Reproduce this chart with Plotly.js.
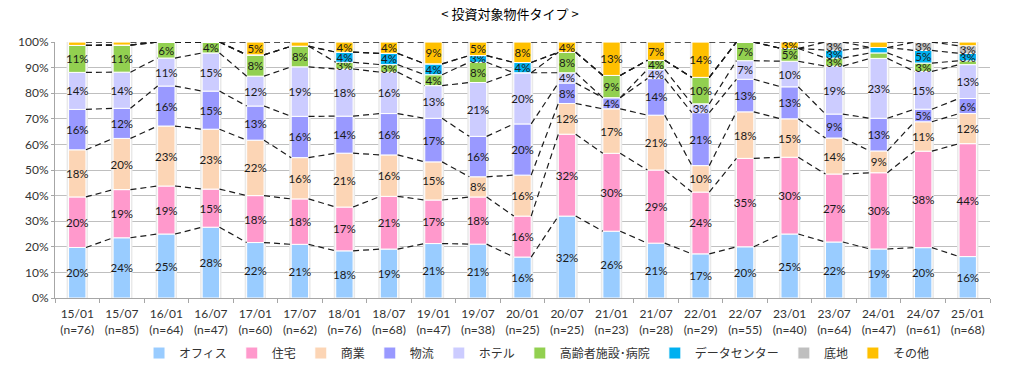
<!DOCTYPE html>
<html>
<head>
<meta charset="utf-8">
<script src="https://cdn.plot.ly/plotly-3.0.1.min.js"></script>
<style>html,body{margin:0;padding:0;background:#fff;}#chart{width:1020px;height:372px;}</style>
</head>
<body>
<div id="chart"></div>
<script>
// ---- data (percent of each survey's answers) ----
const categories = ['15/01','15/07','16/01','16/07','17/01','17/07','18/01','18/07','19/01','19/07','20/01','20/07','21/01','21/07','22/01','22/07','23/01','23/07','24/01','24/07','25/01'];
const sampleSizes = [76,85,64,47,60,62,76,68,47,38,25,25,23,28,29,55,40,64,47,61,68];
const seriesNames = ['オフィス','住宅','商業','物流','ホテル','高齢者施設･病院','データセンター','底地','その他'];
const office     = [19.74,23.53,25.00,27.66,21.67,20.97,18.42,19.12,21.27,21.05,16,32,26.09,21.43,17.24,20.00,25,21.88,19.15,19.67,16.18];
const housing    = [19.74,18.82,18.75,14.89,18.33,17.74,17.11,20.59,17.02,18.42,16,32,30.43,28.57,24.14,34.55,30,26.56,29.79,37.70,44.12];
const retail     = [18.42,20.00,23.44,23.40,21.67,16.13,21.05,16.18,14.89,7.89,16,12,17.39,21.43,10.34,18.18,15,14.06,8.51,11.48,11.76];
const logistics  = [15.78,11.76,15.62,14.89,13.33,16.13,14.47,16.17,17.02,15.79,20,8,4.35,14.29,20.69,12.73,12.5,9.37,12.77,4.92,5.88];
const hotel      = [14.47,14.12,10.94,14.89,11.67,19.35,18.42,16.18,12.77,21.05,20,4,0,3.57,3.45,7.27,10,18.75,23.40,14.75,13.24];
const healthcare = [10.53,10.59,6.25,4.26,8.33,8.06,2.63,2.94,4.26,7.89,0,8,8.70,3.57,10.34,7.27,5,3.12,2.13,3.28,1.47];
const datacenter = [0,0,0,0,0,0,3.95,4.41,4.26,2.63,4,0,0,0,0,0,0,3.13,2.13,4.92,2.94];
const land       = [0,0,0,0,0,0,0,0,0,0,0,0,0,0,0,0,0,3.13,0,3.28,2.94];
const other      = [1.32,1.18,0,0,5.00,1.61,3.95,4.41,8.51,5.26,8,4,13.04,7.14,13.79,0,2.5,0,2.12,0,1.47];

const series = [office, housing, retail, logistics, hotel, healthcare, datacenter, land, other];
const colors = ['#99CCFF','#FF99CC','#FCD5B5','#9999FF','#CCCCFF','#92D050','#00B0F0','#BFBFBF','#FFC000'];

const idx = categories.map((_, i) => i);
const tickText = categories.map((c, i) => c + '<br>(n=' + sampleSizes[i] + ')');
const W = 0.39;
const FONT = 'Lato, "Noto Sans CJK JP", sans-serif';

// cumulative tops
const cum = [];
let running = categories.map(() => 0);
series.forEach(s => {
  const bases = running.slice();
  running = running.map((r, i) => r + s[i]);
  cum.push({base: bases, top: running.slice()});
});
const totals = running.slice();

const traces = [];
// subtle shadow behind each column
traces.push({
  type: 'bar', x: idx, y: totals, base: 0, width: W + 0.09,
  marker: {color: '#e9e9e9', line: {width: 0}},
  showlegend: false, hoverinfo: 'skip'
});
series.forEach((s, k) => {
  traces.push({
    type: 'bar', name: seriesNames[k], x: idx, y: s, base: cum[k].base, width: W,
    marker: {color: colors[k], line: {color: '#ffffff', width: 1}},
    text: s.map(v => v >= 2.5 ? Math.round(v) + '%' : ''),
    textposition: 'inside', insidetextanchor: 'middle', textangle: 0,
    textfont: {family: FONT, size: 11.5, color: '#1a1a1a'},
    hoverinfo: 'skip', cliponaxis: false
  });
});
// dashed series lines between adjacent columns
cum.forEach(c => {
  const xs = [], ys = [];
  for (let i = 0; i < idx.length - 1; i++) {
    xs.push(idx[i] + W / 2, idx[i + 1] - W / 2, null);
    ys.push(c.top[i], c.top[i + 1], null);
  }
  traces.push({
    type: 'scatter', mode: 'lines', x: xs, y: ys, connectgaps: false,
    line: {color: '#1a1a1a', width: 1.2, dash: '6px,4px'},
    showlegend: false, hoverinfo: 'skip', cliponaxis: false
  });
});

const minorTicks = idx.concat([idx.length]).map(i => i - 0.5);

const layout = {
  width: 1020, height: 372,
  margin: {l: 55, r: 30, t: 42, b: 74, autoexpand: false},
  paper_bgcolor: '#ffffff', plot_bgcolor: '#ffffff',
  barmode: 'overlay',
  uniformtext: {mode: 'show', minsize: 11.5},
  font: {family: FONT, color: '#333333', size: 12},
  title: {
    text: '< 投資対象物件タイプ >', x: 0.5, xanchor: 'center', y: 0.96, yanchor: 'middle', yref: 'container',
    font: {family: '"Noto Sans CJK JP", sans-serif', size: 13, color: '#000000'}
  },
  xaxis: {
    type: 'linear', range: [-0.5, idx.length - 0.5], automargin: false,
    tickmode: 'array', tickvals: idx, ticktext: tickText,
    ticks: '', showgrid: false, zeroline: false,
    showline: true, linecolor: '#a6a6a6', linewidth: 1,
    tickfont: {family: FONT, size: 12, color: '#333333'},
    ticklabelstandoff: 5,
    minor: {tickmode: 'array', tickvals: minorTicks, ticks: 'outside', ticklen: 4, tickcolor: '#a6a6a6', showgrid: false}
  },
  yaxis: {
    range: [0, 100.02], autorange: false, tickmode: 'linear', tick0: 0, dtick: 10, ticksuffix: '%',
    showgrid: true, gridcolor: '#bfbfbf', gridwidth: 1, zeroline: false, automargin: false,
    showline: true, linecolor: '#a6a6a6', linewidth: 1,
    ticks: 'outside', ticklen: 3, tickcolor: '#a6a6a6',
    tickfont: {family: FONT, size: 12, color: '#333333'}
  },
  legend: {
    orientation: 'h', x: 0.515, xanchor: 'center', xref: 'paper',
    y: 0.09, yanchor: 'top', yref: 'container',
    font: {family: FONT, size: 12, color: '#333333'},
    itemclick: false, itemdoubleclick: false, traceorder: 'normal'
  },
  showlegend: true
};

Plotly.newPlot('chart', traces, layout, {displayModeBar: false, staticPlot: true});
</script>
</body>
</html>
